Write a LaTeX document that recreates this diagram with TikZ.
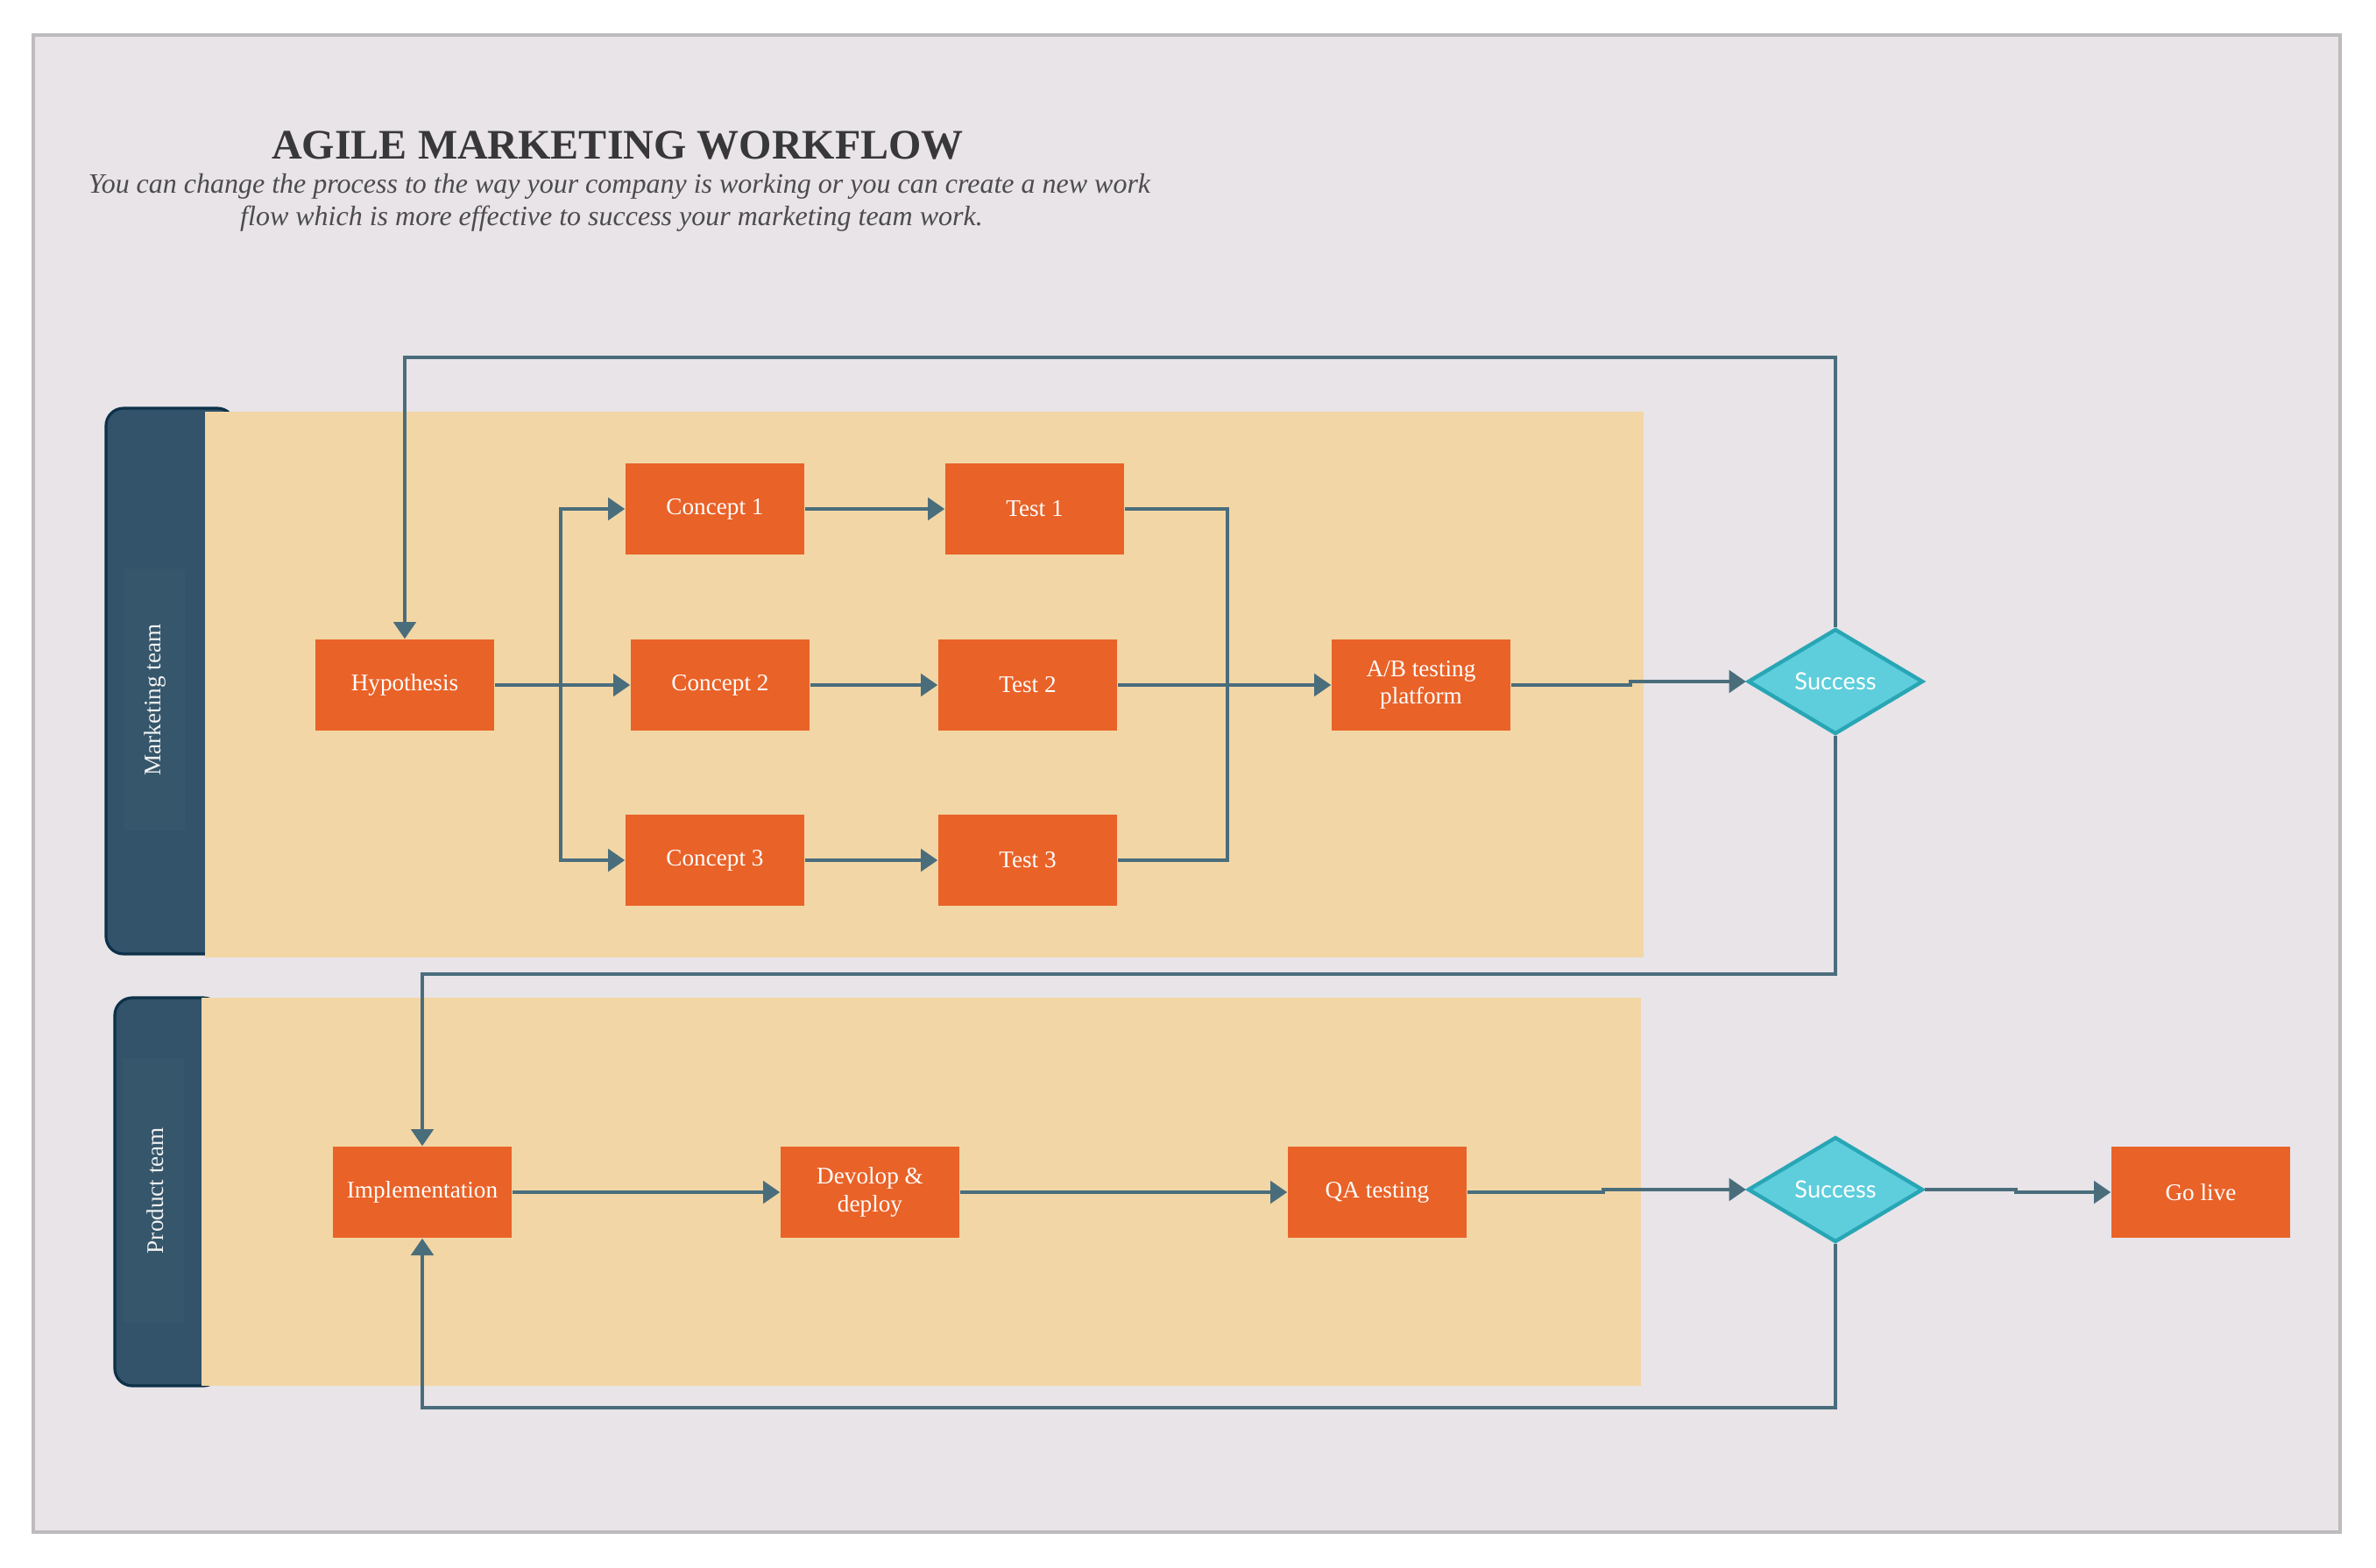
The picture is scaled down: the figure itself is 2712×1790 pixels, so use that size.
\documentclass[tikz,border=0pt]{standalone}
\usepackage{fontspec}
\setmainfont{Liberation Serif}
\newfontfamily\latofont{Lato}
\usetikzlibrary{shapes.geometric,arrows.meta}
\definecolor{framefill}{HTML}{E8E4E8}
\definecolor{frameline}{HTML}{BDBBBD}
\definecolor{lanetan}{HTML}{F2D6A5}
\definecolor{headfill}{HTML}{32536A}
\definecolor{headline}{HTML}{0C3148}
\definecolor{headinner}{HTML}{35566B}
\definecolor{boxorange}{HTML}{E96228}
\definecolor{connc}{HTML}{4A6D7C}
\definecolor{diafill}{HTML}{5ECEDC}
\definecolor{dialine}{HTML}{28A6B5}
\definecolor{titlec}{HTML}{383838}
\tikzset{
  stepbox/.style={fill=boxorange, minimum width=51pt, minimum height=26pt, inner sep=0pt,
    text=white, font=\fontsize{6.8}{7.8}\selectfont, align=center},
  decision/.style={diamond, fill=diafill, draw=dialine, line width=1.1pt, minimum width=50pt,
    minimum height=30pt, aspect=1.65, inner sep=0pt, text=white, font=\latofont\fontsize{6.8}{8}\selectfont},
  conn/.style={draw=connc, line width=0.85pt, -{Triangle[width=6.4pt,length=4.8pt]}},
  plainline/.style={draw=connc, line width=0.85pt},
  lanelabel/.style={rotate=90, text=white!95!black, font=\fontsize{6.8}{8}\selectfont},
}
\begin{document}
\begin{tikzpicture}[x=0.25pt,y=-0.25pt]
\useasboundingbox (0,0) rectangle (2712,1790);
% frame
\draw[fill=framefill, draw=frameline, line width=1pt] (38,40) rectangle (2671,1749);
% title
\node[anchor=base, text=titlec, font=\bfseries\fontsize{12}{14}\selectfont] (title) at (705,181) {AGILE MARKETING WORKFLOW};
\node[anchor=base, text=titlec!90!white, font=\itshape\fontsize{8.0}{9.25}\selectfont] (sub1) at (707,220) {You can change the process to the way your company is working or you can create a new work};
\node[anchor=base, text=titlec!90!white, font=\itshape\fontsize{8.0}{9.25}\selectfont] (sub2) at (698,257) {flow which is more effective to success your marketing team work.};
% marketing lane
\draw[fill=headfill, draw=headline, line width=0.8pt, rounded corners=5pt] (121,466) rectangle (268,1089);
\fill[headinner] (141,649) rectangle (211,948);
\fill[lanetan] (234,470) rectangle (1876,1093);
\node[lanelabel] (mlab) at (177,799) {Marketing team};
% product lane
\draw[fill=headfill, draw=headline, line width=0.8pt, rounded corners=5pt] (131,1139) rectangle (252,1582);
\fill[headinner] (140,1208) rectangle (210,1510);
\fill[lanetan] (230,1139) rectangle (1873,1582);
\node[lanelabel] (plab) at (177,1359) {Product team};
% nodes
\node[stepbox] (hyp) at (462,782) {Hypothesis};
\node[stepbox] (c1) at (816,581) {Concept 1};
\node[stepbox] (t1) at (1181,581) {Test 1};
\node[stepbox] (c2) at (822,782) {Concept 2};
\node[stepbox] (t2) at (1173,782) {Test 2};
\node[stepbox] (c3) at (816,982) {Concept 3};
\node[stepbox] (t3) at (1173,982) {Test 3};
\node[stepbox] (ab) at (1622,782) {A/B testing\\platform};
\node[decision] (s1) at (2095,778) {Success};
\node[stepbox] (impl) at (482,1361) {Implementation};
\node[stepbox] (dev) at (993,1361) {Devolop \&\\deploy};
\node[stepbox] (qa) at (1572,1361) {QA testing};
\node[decision] (s2) at (2095,1358) {Success};
\node[stepbox] (go) at (2512,1361) {Go live};
% helper coordinates
\coordinate (ytop) at (0,408);
\coordinate (ymid) at (0,1112);
\coordinate (ybot) at (0,1607);
\coordinate (bx) at (640,0);
\coordinate (mx) at (1401,0);
\coordinate (jx1) at (1861,0);
\coordinate (jx2) at (1830,0);
\coordinate (jx3) at (2301,0);
% connectors
\draw[conn] (s1.north) -- (s1.north |- ytop) -| (hyp.north);
\draw[conn] (hyp.east) -- (c2.west);
\draw[conn] (bx |- hyp.east) |- (c1.west);
\draw[conn] (bx |- hyp.east) |- (c3.west);
\draw[conn] (c1.east) -- (t1.west);
\draw[conn] (c2.east) -- (t2.west);
\draw[conn] (c3.east) -- (t3.west);
\draw[plainline] (t1.east) -| (mx |- t2.east);
\draw[plainline] (t3.east) -| (mx |- t2.east);
\draw[conn] (t2.east) -- (ab.west);
\draw[conn] (ab.east) -- (jx1 |- ab.east) |- (s1.west);
\draw[conn] (s1.south) -- (s1.south |- ymid) -| (impl.north);
\draw[conn] (impl.east) -- (dev.west);
\draw[conn] (dev.east) -- (qa.west);
\draw[conn] (qa.east) -- (jx2 |- qa.east) |- (s2.west);
\draw[conn] (s2.east) -- (jx3 |- s2.east) |- (go.west);
\draw[conn] (s2.south) -- (s2.south |- ybot) -| (impl.south);
\end{tikzpicture}
\end{document}
